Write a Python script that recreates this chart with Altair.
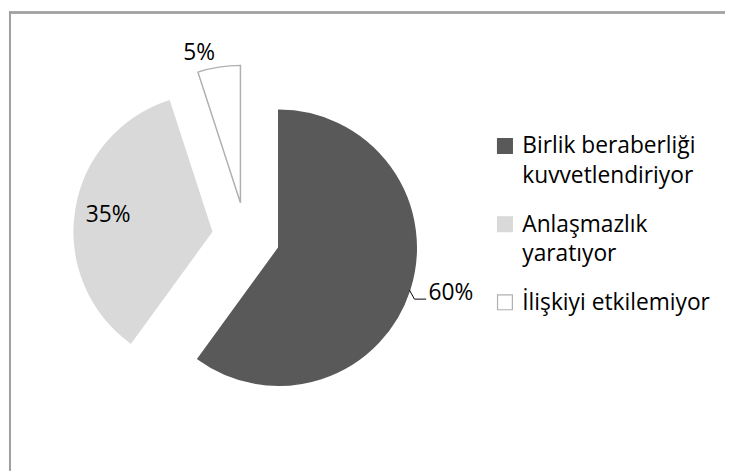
import math
import altair as alt
import pandas as pd

# ---- data ----
categories = ["Birlik beraberliği kuvvetlendiriyor", "Anlaşmazlık yaratıyor", "İlişkiyi etkilemiyor"]
values = [60, 35, 5]

# ---- style ----
fills = ["#595959", "#d9d9d9", "#ffffff"]
strokes = ["#595959", "#d9d9d9", "#b0b0b0"]
legend_lines = {
    "Birlik beraberliği kuvvetlendiriyor": ["Birlik beraberliği", "kuvvetlendiriyor"],
    "Anlaşmazlık yaratıyor": ["Anlaşmazlık", "yaratıyor"],
    "İlişkiyi etkilemiyor": ["İlişkiyi etkilemiyor"],
}
label_radius = [180, 106, 157]
label_shift_deg = [-3.2, 0.0, -6.4]
leader = [1, 0, 0]
W, H = 725, 464
CX, CY = 239.5, 228.0
R = 139
EXPLODE = 35
FONT = "Open Sans"
FS = 23

df = pd.DataFrame({
    "cat": categories,
    "value": values,
    "order": list(range(len(categories))),
    "lr": label_radius,
    "ls": label_shift_deg,
    "leader": leader,
})

base = (
    alt.Chart(df)
    .transform_joinaggregate(total="sum(value)")
    .transform_window(cum="sum(value)", sort=[alt.SortField("order")])
    .transform_calculate(
        t0="(datum.cum - datum.value) / datum.total * 2 * PI",
        t1="datum.cum / datum.total * 2 * PI",
    )
    .transform_calculate(mid="(datum.t0 + datum.t1) / 2")
    .transform_calculate(
        px=f"{CX} + {EXPLODE} * sin(datum.mid)",
        py=f"{CY} - {EXPLODE} * cos(datum.mid)",
        la="datum.mid + datum.ls * PI / 180",
        pct="format(datum.value / datum.total, '.0%')",
    )
    .transform_calculate(
        lx="datum.px + datum.lr * sin(datum.la)",
        ly="datum.py - datum.lr * cos(datum.la)",
        ex=f"datum.px + {R} * sin(datum.mid)",
        ey=f"datum.py - {R} * cos(datum.mid)",
    )
)

label_expr = " : ".join(
    [f"datum.label == '{k}' ? {v!r}" for k, v in legend_lines.items()]
) + " : datum.label"

leg = alt.Legend(
    title=None,
    orient="none",
    legendX=490,
    legendY=132,
    symbolType="M-1,-2H1V0H-1Z",
    symbolSize=225,
    symbolStrokeWidth=1.2,
    labelFont=FONT,
    labelFontSize=FS,
    labelColor="#000000",
    labelBaseline="alphabetic",
    labelOffset=6,
    labelLimit=400,
    rowPadding=25,
    labelExpr=label_expr,
)

arcs = base.mark_arc(radius=R, strokeWidth=1.5).encode(
    x=alt.X("px:Q", scale=None, axis=None),
    y=alt.Y("py:Q", scale=None, axis=None),
    theta=alt.Theta("t0:Q", scale=None),
    theta2="t1:Q",
    fill=alt.Fill("cat:N", scale=alt.Scale(domain=categories, range=fills), sort=categories, legend=leg),
    stroke=alt.Stroke("cat:N", scale=alt.Scale(domain=categories, range=strokes), sort=categories, legend=leg),
)

labels = base.mark_text(font=FONT, fontSize=FS, color="#000000", align="center", baseline="middle").encode(
    x=alt.X("lx:Q", scale=None, axis=None),
    y=alt.Y("ly:Q", scale=None, axis=None),
    text="pct:N",
)

lead_base = base.transform_filter("datum.leader == 1").transform_calculate(
    kx="datum.ex + 5", ky="datum.ly + 6", kx2="datum.lx - 25"
)
lead1 = lead_base.mark_rule(color="#000000", strokeWidth=1).encode(
    x=alt.X("ex:Q", scale=None, axis=None),
    y=alt.Y("ey:Q", scale=None, axis=None),
    x2="kx:Q",
    y2="ky:Q",
)
lead2 = lead_base.mark_rule(color="#000000", strokeWidth=1).encode(
    x=alt.X("kx:Q", scale=None, axis=None),
    y=alt.Y("ky:Q", scale=None, axis=None),
    x2="kx2:Q",
    y2="ky:Q",
)

border_top = alt.Chart(df).mark_rule(color="#a0a0a0", strokeWidth=2).encode(
    x=alt.value(0), x2=alt.value(W), y=alt.value(1)
)
border_left = alt.Chart(df).mark_rule(color="#a0a0a0", strokeWidth=2).encode(
    x=alt.value(1), y=alt.value(0), y2=alt.value(H)
)

chart = (
    alt.layer(arcs, labels, lead1, lead2, border_top, border_left)
    .properties(width=W, height=H, padding=0,
                autosize=alt.AutoSizeParams(type="fit", contains="padding"))
    .configure(background="#ffffff", style={"guide-label": {"lineHeight": 30}},
               view=alt.ViewConfig(stroke="transparent", strokeWidth=0))
)

chart.save("out.html", embed_options={"renderer": "svg", "actions": False})
